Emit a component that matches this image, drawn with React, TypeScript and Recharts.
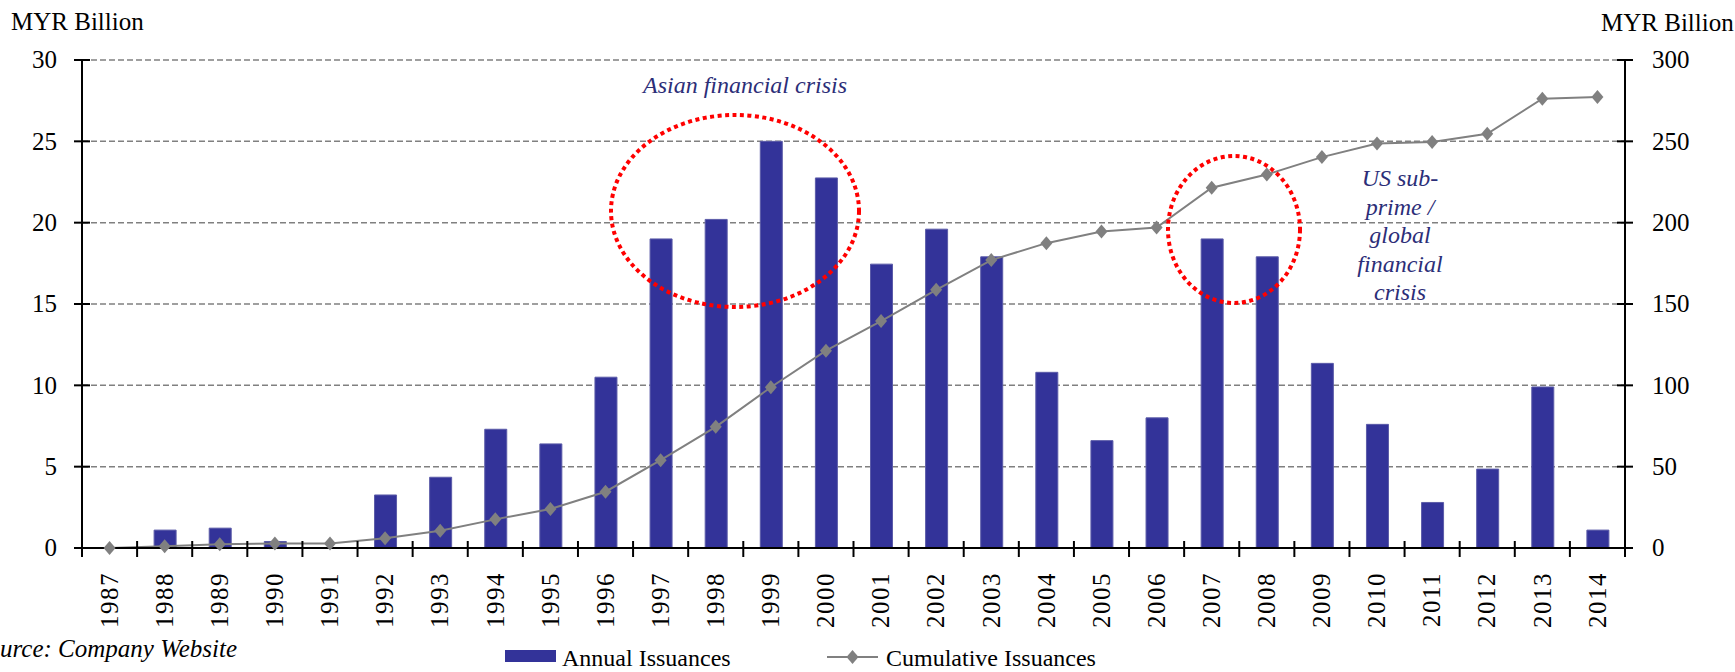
import React from 'react';
import { ComposedChart, Bar, Line, XAxis, YAxis, CartesianGrid } from 'recharts';

const years = [
  '1987', '1988', '1989', '1990', '1991', '1992', '1993', '1994', '1995', '1996',
  '1997', '1998', '1999', '2000', '2001', '2002', '2003', '2004', '2005', '2006',
  '2007', '2008', '2009', '2010', '2011', '2012', '2013', '2014',
];
const annualIssuances = [
  0, 1.1, 1.22, 0.4, 0, 3.26, 4.35, 7.3, 6.4, 10.5,
  19.0, 20.2, 25.0, 22.75, 17.45, 19.6, 17.9, 10.8, 6.6, 8.0,
  19.0, 17.9, 11.35, 7.6, 2.8, 4.85, 9.9, 1.1,
];
const cumulativeIssuances = [
  0, 1.1, 2.3, 2.7, 2.7, 6.0, 10.6, 17.6, 24.0, 34.6,
  54.0, 74.5, 98.8, 121.3, 139.5, 158.7, 177.0, 187.4, 194.6, 197.0,
  221.5, 229.6, 240.3, 248.6, 249.6, 254.6, 276.2, 277.3,
];
const leftTicks = [0, 5, 10, 15, 20, 25, 30];
const rightTicks = [0, 50, 100, 150, 200, 250, 300];

const data = years.map((year, i) => ({
  year,
  annual: annualIssuances[i],
  cumulative: cumulativeIssuances[i],
}));

const W = 1735;
const H = 672;
const LEFT_W = 82;
const RIGHT_W = 110;
const TOP = 60;
const XAXIS_H = 124;
const BAND = (W - LEFT_W - RIGHT_W) / years.length;

const FONT = '"Liberation Serif", "Times New Roman", serif';
const NAVY = '#333399';
const TEXT_NAVY = '#2c2e78';
const GREY = '#808080';

// category ticks sit on the band edges, crossing the axis (Excel style)
const XTick = (props: any) => {
  const { x, y, payload, index } = props;
  const ly = y + 24;
  return (
    <g>
      <line x1={x - BAND / 2} x2={x - BAND / 2} y1={y - 7} y2={y + 9} stroke="#000" strokeWidth={2} />
      {index === years.length - 1 && (
        <line x1={x + BAND / 2} x2={x + BAND / 2} y1={y - 7} y2={y + 9} stroke="#000" strokeWidth={2} />
      )}
      <text
        x={x}
        y={ly}
        transform={`rotate(-90, ${x}, ${ly})`}
        textAnchor="end"
        dy="0.33em"
        fontFamily={FONT}
        fontSize={25}
        letterSpacing={1.5}
        fill="#000"
      >
        {payload.value}
      </text>
    </g>
  );
};

const LeftTick = (props: any) => {
  const { x, y, payload } = props;
  return (
    <g>
      <line x1={x - 8} x2={x + 8} y1={y} y2={y} stroke="#000" strokeWidth={2} />
      <text x={x - 25} y={y} dy="0.33em" textAnchor="end" fontFamily={FONT} fontSize={25} fill="#000">
        {payload.value}
      </text>
    </g>
  );
};

const RightTick = (props: any) => {
  const { x, y, payload } = props;
  return (
    <g>
      <line x1={x - 8} x2={x + 8} y1={y} y2={y} stroke="#000" strokeWidth={2} />
      <text x={x + 27} y={y} dy="0.33em" textAnchor="start" fontFamily={FONT} fontSize={25} fill="#000">
        {payload.value}
      </text>
    </g>
  );
};

const diamond = (cx: number, cy: number, w: number, h: number) =>
  `M${cx},${cy - h} L${cx + w},${cy} L${cx},${cy + h} L${cx - w},${cy} Z`;

const DiamondDot = (props: any) => {
  const { cx, cy, index } = props;
  if (cx == null || cy == null) return <g key={`d-${index}`} />;
  return <path key={`d-${index}`} d={diamond(cx, cy, 6, 7)} fill={GREY} />;
};

const App: React.FC = () => {
  return (
    <div style={{ position: 'absolute', left: 0, top: 0, width: W, height: H, background: '#fff' }}>
      <ComposedChart
        width={W}
        height={H}
        data={data}
        margin={{ top: TOP, right: 0, bottom: 0, left: 0 }}
        barSize={22}
      >
        <CartesianGrid
          yAxisId="left"
          vertical={false}
          stroke={GREY}
          strokeWidth={1.5}
          strokeDasharray="6 3"
        />
        <XAxis
          dataKey="year"
          height={XAXIS_H}
          interval={0}
          tickLine={false}
          tickSize={0}
          tickMargin={0}
          axisLine={{ stroke: '#000', strokeWidth: 2 }}
          tick={<XTick />}
        />
        <YAxis
          yAxisId="left"
          orientation="left"
          width={LEFT_W}
          domain={[0, 30]}
          ticks={leftTicks}
          interval={0}
          tickLine={false}
          tickSize={0}
          tickMargin={0}
          axisLine={{ stroke: '#000', strokeWidth: 2 }}
          tick={<LeftTick />}
        />
        <YAxis
          yAxisId="right"
          orientation="right"
          width={RIGHT_W}
          domain={[0, 300]}
          ticks={rightTicks}
          interval={0}
          tickLine={false}
          tickSize={0}
          tickMargin={0}
          axisLine={{ stroke: '#000', strokeWidth: 2 }}
          tick={<RightTick />}
        />
        <Bar
          yAxisId="left"
          dataKey="annual"
          fill={NAVY}
          stroke="#5b5ba8"
          strokeWidth={1}
          isAnimationActive={false}
        />
        <Line
          yAxisId="right"
          type="linear"
          dataKey="cumulative"
          stroke={GREY}
          strokeWidth={2}
          dot={(p: any) => <DiamondDot key={`dot-${p.index}`} {...p} />}
          activeDot={false}
          isAnimationActive={false}
        />
      </ComposedChart>

      <svg
        width={W}
        height={H}
        style={{ position: 'absolute', left: 0, top: 0, pointerEvents: 'none' }}
      >
        <text x={11} y={30} fontFamily={FONT} fontSize={25} fill="#000">MYR Billion</text>
        <text x={1601} y={31} fontFamily={FONT} fontSize={25} fill="#000">MYR Billion</text>

        <text x={745} y={93} textAnchor="middle" fontFamily={FONT} fontStyle="italic" fontSize={24} fill={TEXT_NAVY}>
          Asian financial crisis
        </text>
        <ellipse cx={735} cy={211} rx={124} ry={96} fill="none" stroke="#ff0000" strokeWidth={4} strokeDasharray="4 3.5" />
        <ellipse cx={1234} cy={229.5} rx={66} ry={73.5} fill="none" stroke="#ff0000" strokeWidth={4} strokeDasharray="4 3.5" />

        <g fontFamily={FONT} fontStyle="italic" fontSize={24} fill={TEXT_NAVY} textAnchor="middle">
          <text x={1400} y={186}>US sub-</text>
          <text x={1400} y={214.5}>prime /</text>
          <text x={1400} y={243}>global</text>
          <text x={1400} y={271.5}>financial</text>
          <text x={1400} y={300}>crisis</text>
        </g>

        {/* the source line is cut by the left edge in the original */}
        <text x={-25} y={657} fontFamily={FONT} fontStyle="italic" fontSize={25} fill="#000">
          Source: Company Website
        </text>

        <rect x={505} y={650} width={51} height={12} fill={NAVY} />
        <text x={562} y={666} fontFamily={FONT} fontSize={24} fill="#000">Annual Issuances</text>
        <line x1={827} x2={878} y1={657} y2={657} stroke={GREY} strokeWidth={2} />
        <path d={diamond(852.5, 657, 6, 7)} fill={GREY} />
        <text x={886} y={666} fontFamily={FONT} fontSize={24} fill="#000">Cumulative Issuances</text>
      </svg>
    </div>
  );
};

export default App;
